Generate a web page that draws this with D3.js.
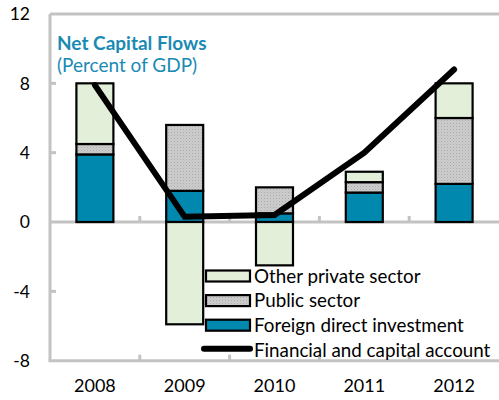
<!DOCTYPE html>
<html><head><meta charset="utf-8">
<script src="https://cdn.jsdelivr.net/npm/d3@7"></script>
<style>body{margin:0;background:#fff;} svg{display:block;font-family:Lato, "Open Sans", sans-serif;}</style>
</head><body><svg id="c" width="499" height="400"></svg>
<script>
const years = ["2008","2009","2010","2011","2012"];
const fdi = [3.9, 1.8, 0.5, 1.7, 2.2];
const publicSector = [0.6, 3.8, 1.5, 0.6, 3.8];
const otherPrivate = [3.5, -5.9, -2.5, 0.6, 2.0];
const financialAccount = [7.9, 0.3, 0.4, 4.0, 8.8];
const yTicks = [-8, -4, 0, 4, 8, 12];
const seriesNames = ["Foreign direct investment", "Public sector", "Other private sector"];
const lineName = "Financial and capital account";

const svg = d3.select("#c");
const x = d3.scaleBand().domain(years).range([50, 499]).paddingInner(0.588).paddingOuter(0.294);
const y = d3.scaleLinear().domain([-8, 12]).range([360.7, 14]);
const colors = ["#0088ae", "#c9c9c9", "#e3f0da"];

const defs = svg.append("defs");
const pg = defs.append("pattern").attr("id","pGray").attr("width",3).attr("height",3).attr("patternUnits","userSpaceOnUse");
pg.append("rect").attr("width",3).attr("height",3).attr("fill","#cdcdcd");
pg.append("rect").attr("width",1).attr("height",1).attr("fill","#aaaaaa");
pg.append("rect").attr("x",1.5).attr("y",1.5).attr("width",1).attr("height",1).attr("fill","#bababa");
const pgr = defs.append("pattern").attr("id","pGreen").attr("width",4).attr("height",4).attr("patternUnits","userSpaceOnUse");
pgr.append("rect").attr("width",4).attr("height",4).attr("fill","#e4f0dc");
pgr.append("path").attr("d","M0,4L4,0").attr("stroke","#d8e9cd").attr("stroke-width",0.6);
const fills = [colors[0], "url(#pGray)", "url(#pGreen)"];

const data = years.map((yr,i)=>({year:yr, a:fdi[i], b:publicSector[i], c:otherPrivate[i]}));
const stack = d3.stack().keys(["a","b","c"]).offset(d3.stackOffsetDiverging);
const layers = stack(data);

// axes (gray)
const axisColor = "#c3c3c3";
svg.append("line").attr("x1",50).attr("x2",499).attr("y1",y(12)).attr("y2",y(12)).attr("stroke",axisColor).attr("stroke-width",3);
svg.append("line").attr("x1",50).attr("x2",50).attr("y1",y(12)).attr("y2",y(-8)).attr("stroke",axisColor).attr("stroke-width",3);
svg.append("line").attr("x1",48.5).attr("x2",499).attr("y1",y(-8)).attr("y2",y(-8)).attr("stroke",axisColor).attr("stroke-width",3);
svg.append("line").attr("x1",50).attr("x2",499).attr("y1",y(0)).attr("y2",y(0)).attr("stroke",axisColor).attr("stroke-width",3);
yTicks.forEach(t=>{
  if (t!==12 && t!==0 && t!==-8) svg.append("line").attr("x1",50).attr("x2",56).attr("y1",y(t)).attr("y2",y(t)).attr("stroke",axisColor).attr("stroke-width",3);
});
const step = x.step();
for (let k=1;k<years.length;k++){
  const bx = 50 + step*k;
  svg.append("line").attr("x1",bx).attr("x2",bx).attr("y1",y(0)).attr("y2",y(0)-6).attr("stroke",axisColor).attr("stroke-width",3);
  svg.append("line").attr("x1",bx).attr("x2",bx).attr("y1",y(-8)).attr("y2",y(-8)-6).attr("stroke",axisColor).attr("stroke-width",3);
}
svg.append("g").selectAll("text").data(yTicks).join("text")
  .attr("x",30).attr("y",d=>y(d)).attr("dy","0.36em").attr("text-anchor","end")
  .attr("font-size",17.5).attr("fill","#000").text(d=>d);
svg.append("g").selectAll("text").data(years).join("text")
  .attr("x",d=>x(d)+x.bandwidth()/2).attr("y",386).attr("dy","0.36em").attr("text-anchor","middle")
  .attr("font-size",18).attr("fill","#000").text(d=>d);

layers.forEach((layer,li)=>{
  svg.append("g").selectAll("rect").data(layer).join("rect")
    .attr("x",d=>x(d.data.year)).attr("width",x.bandwidth())
    .attr("y",d=>y(Math.max(d[0],d[1]))).attr("height",d=>Math.abs(y(d[0])-y(d[1])))
    .attr("fill",fills[li]).attr("stroke","#000").attr("stroke-width",2.2);
});

const line = d3.line().x((d,i)=>x(years[i])+x.bandwidth()/2).y(d=>y(d));
svg.append("path").attr("d",line(financialAccount)).attr("fill","none").attr("stroke","#000")
  .attr("stroke-width",6).attr("stroke-linecap","round").attr("stroke-linejoin","miter");

svg.append("text").attr("x",57).attr("y",50).attr("font-size",19).attr("font-weight","bold").attr("fill","#1a8ab4").text("Net Capital Flows");
svg.append("text").attr("x",57).attr("y",72).attr("font-size",19).attr("fill","#1a8ab4").text("(Percent of GDP)");

const legendItems = [
  {name: seriesNames[2], fill: fills[2], type:"box"},
  {name: seriesNames[1], fill: fills[1], type:"box"},
  {name: seriesNames[0], fill: fills[0], type:"box"},
  {name: lineName, type:"line"}
];
const lg = svg.append("g");
legendItems.forEach((it,i)=>{
  const cy = 276 + i*24.6;
  if (it.type==="box") {
    lg.append("rect").attr("x",206).attr("y",cy-5.5).attr("width",44).attr("height",11).attr("fill",it.fill).attr("stroke","#000").attr("stroke-width",2.2);
  } else {
    lg.append("line").attr("x1",204).attr("x2",250).attr("y1",cy-1).attr("y2",cy-1).attr("stroke","#000").attr("stroke-width",6).attr("stroke-linecap","round");
  }
  lg.append("text").attr("x",254).attr("y",cy).attr("dy","0.36em").attr("font-size",18.8).attr("fill","#000").text(it.name);
});
</script></body></html>
